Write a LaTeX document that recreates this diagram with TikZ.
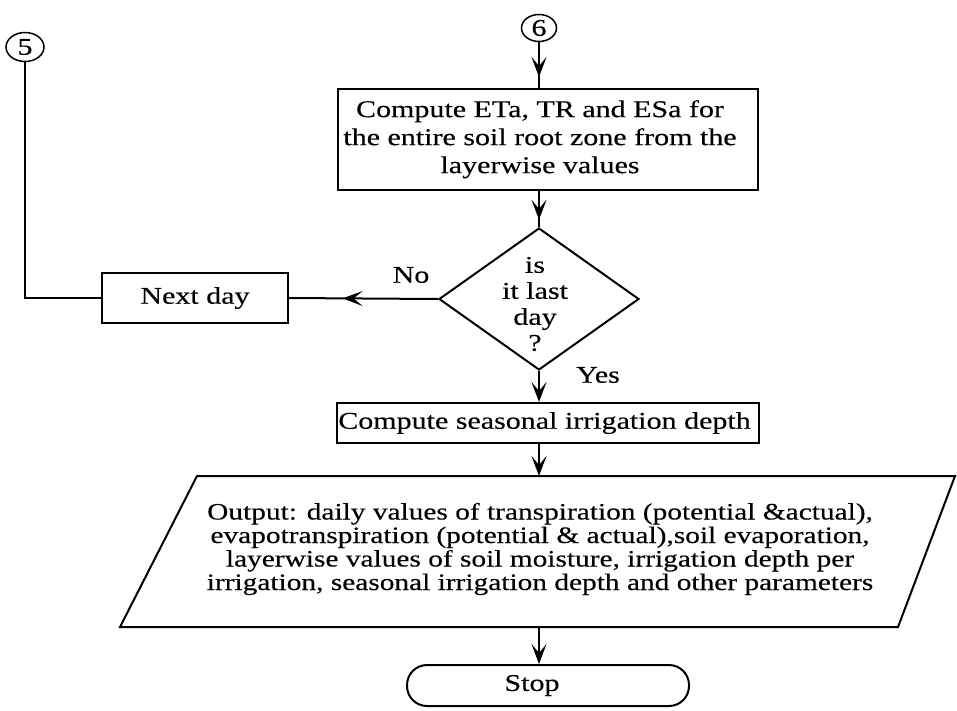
\documentclass[tikz,border=0pt]{standalone}
\usepackage{fontspec}
\setmainfont{Liberation Serif}[FakeStretch=1.25,FakeBold=0.3]
\usetikzlibrary{arrows.meta,shapes.geometric,decorations.markings}

\begin{document}
\begin{tikzpicture}[x=1pt,y=-1pt,
  line width=2pt,
  >={Stealth[length=20pt,width=15pt,inset=9pt]},
  font=\fontsize{24}{28}\selectfont,
  procbox/.style={draw, rectangle, inner sep=0pt, align=center},
  connector/.style={draw, ellipse, inner sep=0pt, line width=1.5pt},
  midarrow/.style={postaction={decorate},
    decoration={markings, mark=at position #1 with {\arrow{>}}}},
  lbl/.style={inner sep=0pt}]

\useasboundingbox (0,0) rectangle (957,710);

% off-page connectors
\node[connector, minimum width=38pt, minimum height=29pt] (c5) at (25,47) {5};
\node[connector, minimum width=35pt, minimum height=27pt] (c6) at (539,28) {6};

% process boxes
\node[procbox, minimum width=420pt, minimum height=101pt] (b1) at (548,139.5)
  {\hspace*{-16pt}\begin{tabular}{@{}c@{}}Compute ETa, TR and ESa for\\the entire soil root zone from the\\layerwise values\end{tabular}};

\node[draw, diamond, minimum width=200pt, minimum height=142pt, inner sep=0pt] (d) at (539,299) {};
\node[lbl, align=center, font=\fontsize{24}{26}\selectfont] (dq) at (535,304)
  {is\\it last\\day\\?};

\node[procbox, minimum width=186pt, minimum height=50pt] (nd) at (195,298) {Next day};

\node[procbox, minimum width=422pt, minimum height=40pt] (b2) at (548,423)
  {\hspace*{-7pt}Compute seasonal irrigation depth};

% output parallelogram
\coordinate (ptl) at (197,476);
\coordinate (ptr) at (955,476);
\coordinate (pbr) at (898,627);
\coordinate (pbl) at (120,627);
\draw (ptl) -- (ptr) -- (pbr) -- (pbl) -- cycle;
\coordinate (ptop) at (539,476);
\coordinate (pbot) at (539,627);
\node[lbl, align=center, font=\fontsize{23.5}{23.5}\selectfont] (otxt) at (540,549)
  {Output: daily values of transpiration (potential \&actual),\\
   evapotranspiration (potential \& actual),soil evaporation,\\
   layerwise values of soil moisture, irrigation depth per\\
   irrigation, seasonal irrigation depth and other parameters};

\node[draw, rectangle, rounded corners=20pt, minimum width=282pt, minimum height=41pt, inner sep=0pt] (stop) at (548,685.5) {\hspace*{-32pt}Stop};

% flow lines
\draw[midarrow=0.76] (c6.south) -- (c6.south |- b1.north);
\draw[midarrow=0.8] (b1.south -| d.north) -- (d.north);
\draw[->] (d.south) -- (d.south |- b2.north);
\draw[->] (b2.south -| ptop) -- (ptop);
\draw[->] (pbot) -- (pbot |- stop.north);
\draw[midarrow=0.64] (d.west) -- (nd.east);
\draw (nd.west) -| (c5.south);

% branch labels
\node[lbl] (no) at (411,275) {No};
\node[lbl] (yes) at (598,375) {Yes};

\end{tikzpicture}
\end{document}
